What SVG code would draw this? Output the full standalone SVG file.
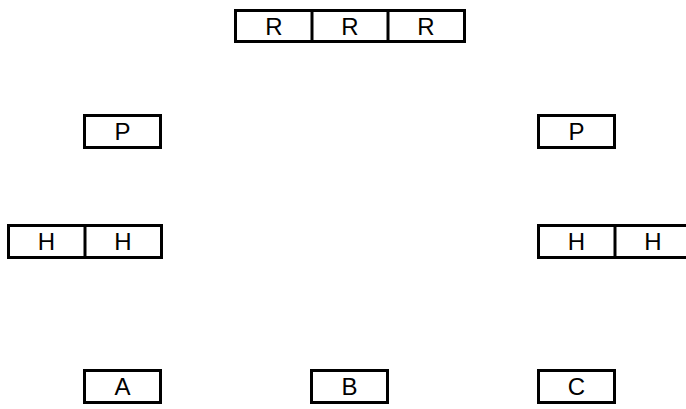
<svg xmlns="http://www.w3.org/2000/svg" width="686" height="409" viewBox="0 0 686 409">
<style>
.box{fill:#fff;stroke:#000;stroke-width:3}
.div{stroke:#000;stroke-width:3}
.t{font-family:"Liberation Sans",Arial,sans-serif;font-size:24px;fill:#000;text-anchor:middle}
</style>
<rect width="686" height="409" fill="#fff"/>
<g id="R">
<rect class="box" x="235.5" y="10.5" width="229" height="31"/>
<line class="div" x1="312" y1="10.5" x2="312" y2="41.5"/>
<line class="div" x1="388" y1="10.5" x2="388" y2="41.5"/>
<text class="t" x="274" y="34.5">R</text>
<text class="t" x="350" y="34.5">R</text>
<text class="t" x="426" y="34.5">R</text>
</g>
<g id="P1">
<rect class="box" x="84.5" y="115.5" width="76" height="32"/>
<text class="t" x="122.5" y="140">P</text>
</g>
<g id="P2">
<rect class="box" x="538.5" y="115.5" width="76" height="32"/>
<text class="t" x="576.5" y="140">P</text>
</g>
<g id="H1">
<rect class="box" x="8.5" y="225.5" width="153" height="32"/>
<line class="div" x1="85" y1="225.5" x2="85" y2="257.5"/>
<text class="t" x="46.5" y="250">H</text>
<text class="t" x="123" y="250">H</text>
</g>
<g id="H2">
<rect class="box" x="538.5" y="225.5" width="153" height="32"/>
<line class="div" x1="615" y1="225.5" x2="615" y2="257.5"/>
<text class="t" x="576.5" y="250">H</text>
<text class="t" x="653" y="250">H</text>
</g>
<g id="A">
<rect class="box" x="84.5" y="370.5" width="76" height="32"/>
<text class="t" x="122.5" y="395">A</text>
</g>
<g id="B">
<rect class="box" x="311.5" y="370.5" width="76" height="32"/>
<text class="t" x="349.5" y="395">B</text>
</g>
<g id="C">
<rect class="box" x="538.5" y="370.5" width="76" height="32"/>
<text class="t" x="576.5" y="395">C</text>
</g>
<g id="connectors"></g>
</svg>
